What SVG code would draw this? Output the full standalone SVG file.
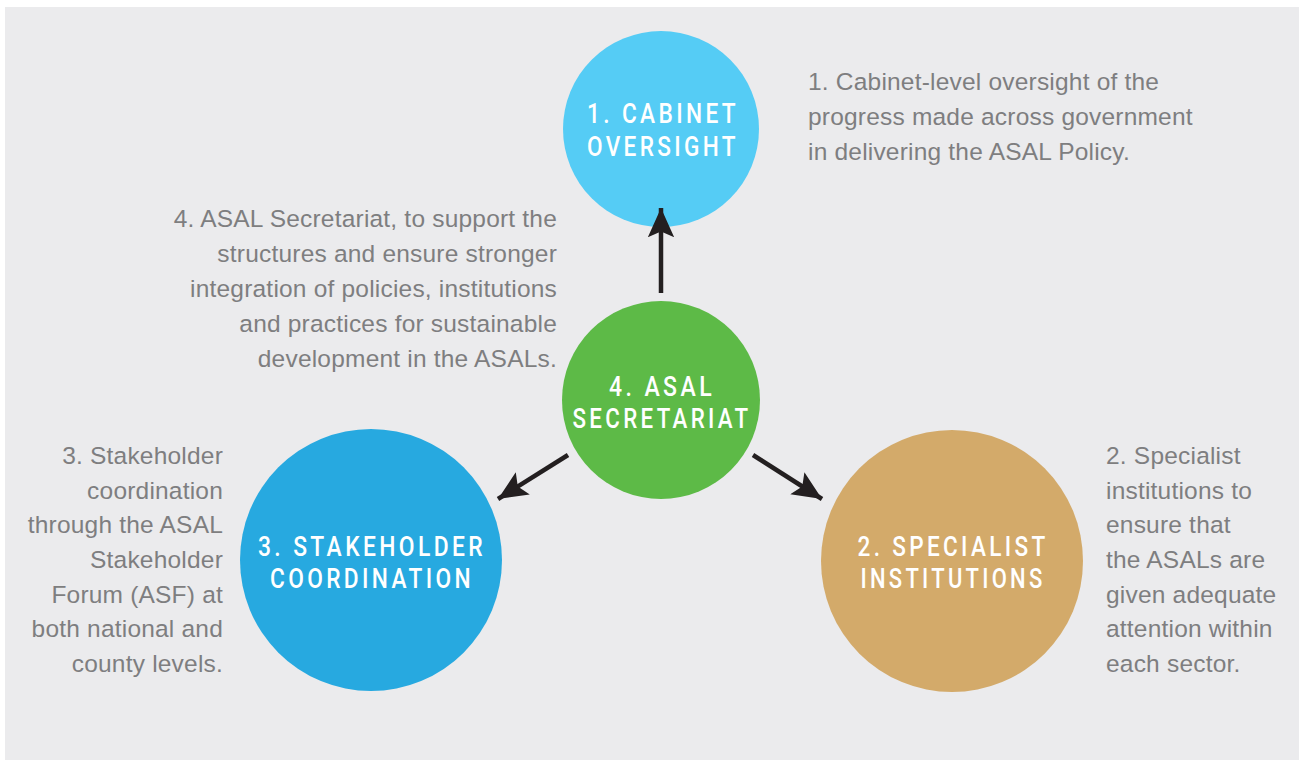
<svg xmlns="http://www.w3.org/2000/svg" width="1299" height="760" viewBox="0 0 1299 760">
<defs>
<style>
.bg{fill:#ebebed}
.desc{font-family:"Liberation Sans",Arial,sans-serif;font-size:24.5px;fill:#7e7e80;letter-spacing:0.2px}
.r{text-anchor:end}
.lbl{font-family:Roboto,"Liberation Sans",Arial,sans-serif;font-weight:500;font-size:27px;fill:#ffffff;text-anchor:middle;letter-spacing:4px}
.conn{stroke:#231f20;stroke-width:4.5;fill:none}
</style>
<marker id="ah" viewBox="0 0 10 10" refX="10" refY="5" markerWidth="6.5" markerHeight="6.5" markerUnits="strokeWidth" orient="auto">
<path d="M0,0.5 L10,5 L0,9.5 L2,5 Z" fill="#231f20"/>
</marker>
</defs>
<rect class="bg" x="5" y="7" width="1294" height="753"/>
<g id="node1">
<circle cx="661" cy="129" r="98" fill="#55ccf5"/>
<text class="lbl" x="663" y="123" textLength="152" lengthAdjust="spacingAndGlyphs">1. CABINET</text>
<text class="lbl" x="663" y="156" textLength="152" lengthAdjust="spacingAndGlyphs">OVERSIGHT</text>
</g>
<g id="node4">
<circle cx="661" cy="400" r="99" fill="#5dba47"/>
<text class="lbl" x="662" y="396" textLength="106" lengthAdjust="spacingAndGlyphs">4. ASAL</text>
<text class="lbl" x="662" y="428" textLength="179" lengthAdjust="spacingAndGlyphs">SECRETARIAT</text>
</g>
<g id="node3">
<circle cx="371" cy="560" r="131" fill="#27a9e0"/>
<text class="lbl" x="372" y="556" textLength="228" lengthAdjust="spacingAndGlyphs">3. STAKEHOLDER</text>
<text class="lbl" x="372" y="588" textLength="204" lengthAdjust="spacingAndGlyphs">COORDINATION</text>
</g>
<g id="node2">
<circle cx="952" cy="561" r="131" fill="#d3aa6a"/>
<text class="lbl" x="953" y="556" textLength="191" lengthAdjust="spacingAndGlyphs">2. SPECIALIST</text>
<text class="lbl" x="953" y="588" textLength="185" lengthAdjust="spacingAndGlyphs">INSTITUTIONS</text>
</g>
<g id="connectors">
<line class="conn" x1="661" y1="293" x2="661" y2="208" marker-end="url(#ah)"/>
<line class="conn" x1="568" y1="455" x2="498" y2="499" marker-end="url(#ah)"/>
<line class="conn" x1="753" y1="455" x2="822" y2="499" marker-end="url(#ah)"/>
</g>
<g id="text1" class="desc">
<text x="808" y="90">1. Cabinet-level oversight of the</text>
<text x="808" y="125">progress made across government</text>
<text x="808" y="160">in delivering the ASAL Policy.</text>
</g>
<g id="text4" class="desc r">
<text x="557" y="227">4. ASAL Secretariat, to support the</text>
<text x="557" y="262">structures and ensure stronger</text>
<text x="557" y="297">integration of policies, institutions</text>
<text x="557" y="332">and practices for sustainable</text>
<text x="557" y="367">development in the ASALs.</text>
</g>
<g id="text3" class="desc r">
<text x="223" y="464">3. Stakeholder</text>
<text x="223" y="499">coordination</text>
<text x="223" y="533">through the ASAL</text>
<text x="223" y="568">Stakeholder</text>
<text x="223" y="603">Forum (ASF) at</text>
<text x="223" y="637">both national and</text>
<text x="223" y="672">county levels.</text>
</g>
<g id="text2" class="desc">
<text x="1106" y="464">2. Specialist</text>
<text x="1106" y="499">institutions to</text>
<text x="1106" y="533">ensure that</text>
<text x="1106" y="568">the ASALs are</text>
<text x="1106" y="603">given adequate</text>
<text x="1106" y="637">attention within</text>
<text x="1106" y="672">each sector.</text>
</g>
</svg>
